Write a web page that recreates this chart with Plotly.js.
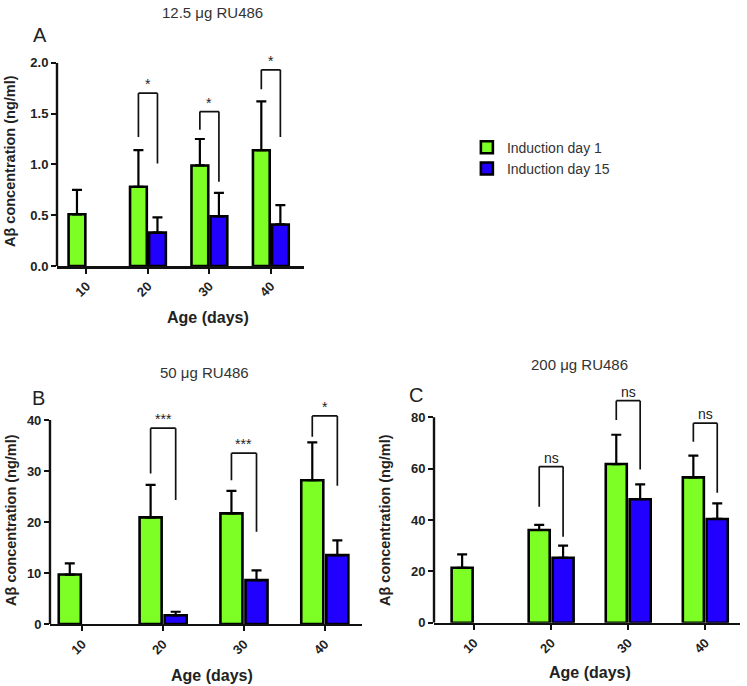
<!DOCTYPE html>
<html>
<head>
<meta charset="utf-8">
<script src="https://cdn.plot.ly/plotly-3.0.1.min.js"></script>
<style>
  body { margin: 0; background: #fff; }
  #chart { width: 747px; height: 686px; }
</style>
</head>
<body>
<div id="chart"></div>
<script>
// categories
var ages = ['10', '20', '30', '40'];
var seriesNames = ['Induction day 1', 'Induction day 15'];

// panel A, 12.5 ug
var aDay1 = [0.51, 0.78, 0.99, 1.14];
var aDay1Err = [0.24, 0.36, 0.26, 0.48];
var aDay15 = [null, 0.33, 0.49, 0.41];
var aDay15Err = [null, 0.15, 0.23, 0.19];

// panel B, 50 ug
var bDay1 = [9.7, 20.9, 21.7, 28.2];
var bDay1Err = [2.2, 6.4, 4.4, 7.4];
var bDay15 = [null, 1.7, 8.6, 13.5];
var bDay15Err = [null, 0.7, 1.9, 2.9];

// panel C, 200 ug
var cDay1 = [21.4, 36.1, 61.8, 56.6];
var cDay1Err = [5.2, 2.0, 11.4, 8.5];
var cDay15 = [null, 25.3, 48.1, 40.4];
var cDay15Err = [null, 4.7, 5.8, 6.1];

// significance brackets (category index, left leg low, bracket top, right leg low, label)
var aBrCat = [1, 2, 3];
var aBrLeft = [1.27, 1.34, 1.74];
var aBrTop = [1.70, 1.52, 1.93];
var aBrRight = [1.01, 0.83, 1.27];
var aBrLabel = ['*', '*', '*'];

var bBrCat = [1, 2, 3];
var bBrLeft = [29.5, 28.2, 36.7];
var bBrTop = [38.4, 33.5, 40.8];
var bBrRight = [24.3, 18.1, 27.1];
var bBrLabel = ['***', '***', '*'];

var cBrCat = [1, 2, 3];
var cBrLeft = [45.2, 79.0, 70.5];
var cBrTop = [60.8, 86.5, 77.7];
var cBrRight = [33.5, 59.7, 50.6];
var cBrLabel = ['ns', 'ns', 'ns'];

var GREEN = '#7dff26';
var BLUE = '#2200ff';
var FONT = 'Liberation Sans, Arial, sans-serif';
var OFF = 0.155;

function zeros(a) { return a.map(function () { return 0; }); }

function barTrace(y, err, name, color, xa, ya, legend) {
  return {
    type: 'bar',
    x: ages,
    y: y,
    name: name,
    xaxis: xa,
    yaxis: ya,
    showlegend: legend,
    legendgroup: name,
    marker: {color: color, line: {color: '#000', width: 2.6}},
    error_y: {
      type: 'data', symmetric: false, array: err, arrayminus: zeros(err),
      color: '#000', thickness: 2.2, width: 5
    },
    hoverinfo: 'skip'
  };
}

var data = [
  barTrace(aDay1, aDay1Err, seriesNames[0], GREEN, 'x', 'y', true),
  barTrace(aDay15, aDay15Err, seriesNames[1], BLUE, 'x', 'y', true),
  barTrace(bDay1, bDay1Err, seriesNames[0], GREEN, 'x2', 'y2', false),
  barTrace(bDay15, bDay15Err, seriesNames[1], BLUE, 'x2', 'y2', false),
  barTrace(cDay1, cDay1Err, seriesNames[0], GREEN, 'x3', 'y3', false),
  barTrace(cDay15, cDay15Err, seriesNames[1], BLUE, 'x3', 'y3', false)
];

var shapes = [];
var annotations = [];

function addBrackets(cats, left, top, right, labels, xr, yr) {
  var ln = {color: '#111', width: 1.7};
  for (var i = 0; i < cats.length; i++) {
    var x0 = cats[i] - OFF, x1 = cats[i] + OFF;
    shapes.push({type: 'line', xref: xr, yref: yr, x0: x0, x1: x0, y0: left[i], y1: top[i], line: ln});
    shapes.push({type: 'line', xref: xr, yref: yr, x0: x0, x1: x1, y0: top[i], y1: top[i], line: ln});
    shapes.push({type: 'line', xref: xr, yref: yr, x0: x1, x1: x1, y0: top[i], y1: right[i], line: ln});
    annotations.push({
      xref: xr, yref: yr, x: cats[i], y: top[i], text: labels[i],
      showarrow: false, yanchor: 'bottom', yshift: -1,
      font: {family: FONT, size: 14, color: '#222'}
    });
  }
}
addBrackets(aBrCat, aBrLeft, aBrTop, aBrRight, aBrLabel, 'x', 'y');
addBrackets(bBrCat, bBrLeft, bBrTop, bBrRight, bBrLabel, 'x2', 'y2');
addBrackets(cBrCat, cBrLeft, cBrTop, cBrRight, cBrLabel, 'x3', 'y3');

// y axis lines stop at the top tick, brackets may run above it
function yLine(yr, top) {
  shapes.push({type: 'line', xref: yr.replace('y', 'x') + ' domain', yref: yr,
    x0: 0, x1: 0, y0: 0, y1: top, line: {color: '#111', width: 2.4}});
}
yLine('y', 2);
yLine('y2', 40);
yLine('y3', 80);

function txt(x, y, text, size, bold, color, angle) {
  annotations.push({
    xref: 'paper', yref: 'paper', x: x, y: y, text: text, showarrow: false,
    xanchor: 'center', yanchor: 'middle', textangle: angle || 0,
    font: {family: FONT, size: size, color: color || '#333', weight: bold ? 'bold' : 'normal'}
  });
}
txt(0.284, 0.9825, '12.5 μg RU486', 15);
txt(0.0535, 0.949, 'A', 20, false, '#222');
txt(0.2744, 0.4577, '50 μg RU486', 15);
txt(0.0522, 0.4198, 'B', 20, false, '#222');
txt(0.7764, 0.468, '200 μg RU486', 15);
txt(0.557, 0.424, 'C', 20, false, '#222');
txt(0.2785, 0.5375, 'Age (days)', 16, true, '#222');
txt(0.2838, 0.0146, 'Age (days)', 16, true, '#222');
txt(0.79, 0.019, 'Age (days)', 16, true, '#222');
txt(0.0134, 0.7653, 'Aβ concentration (ng/ml)', 14.5, true, '#222', -90);
txt(0.0147, 0.242, 'Aβ concentration (ng/ml)', 14.5, true, '#222', -90);
txt(0.5154, 0.242, 'Aβ concentration (ng/ml)', 14.5, true, '#222', -90);

function xAxis(domain, anchor, range) {
  return {
    domain: domain, anchor: anchor, type: 'category', range: range,
    showline: true, linecolor: '#111', linewidth: 2.4,
    ticks: 'outside', ticklen: 5, tickwidth: 2, tickcolor: '#111',
    tickangle: -45, showgrid: false, zeroline: false, automargin: false,
    tickfont: {family: FONT, size: 13, color: '#222', weight: 'bold'}
  };
}
function yAxis(domain, anchor, range, dtick, fmt) {
  return {
    domain: domain, anchor: anchor, range: range, dtick: dtick, tick0: 0,
    tickformat: fmt, showline: false,
    ticks: 'outside', ticklen: 5, tickwidth: 2, tickcolor: '#111',
    showgrid: false, zeroline: false, automargin: false,
    tickfont: {family: FONT, size: 13, color: '#222', weight: 'bold'}
  };
}

var layout = {
  width: 747,
  height: 686,
  margin: {l: 0, r: 0, t: 0, b: 0},
  paper_bgcolor: '#fff',
  plot_bgcolor: '#fff',
  barmode: 'group',
  bargap: 0.38,
  bargroupgap: 0.12,
  font: {family: FONT, color: '#222'},
  xaxis: xAxis([0.0763, 0.407], 'y', [-0.48, 3.54]),
  yaxis: yAxis([0.612, 0.9086], 'x', [0, 2], 0.5, '.1f'),
  xaxis2: xAxis([0.0669, 0.4846], 'y2', [-0.4, 3.46]),
  yaxis2: yAxis([0.0904, 0.4026], 'x2', [0, 42], 10, 'd'),
  xaxis3: xAxis([0.581, 0.9906], 'y3', [-0.52, 3.45]),
  yaxis3: yAxis([0.0923, 0.4216], 'x3', [0, 88], 20, 'd'),
  legend: {
    x: 0.625, y: 0.808, xanchor: 'left', yanchor: 'top',
    font: {family: FONT, size: 14, color: '#333'},
    bgcolor: 'rgba(0,0,0,0)', tracegroupgap: 0
  },
  shapes: shapes,
  annotations: annotations
};

Plotly.newPlot('chart', data, layout, {displayModeBar: false, staticPlot: true});
</script>
</body>
</html>
